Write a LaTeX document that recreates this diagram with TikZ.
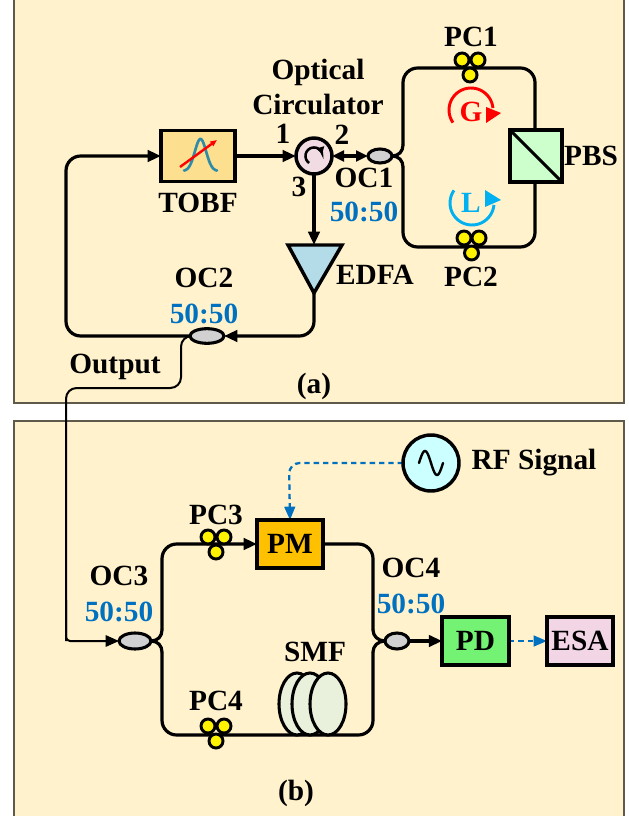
\documentclass[tikz,border=0pt]{standalone}
\usepackage{fontspec}
\setmainfont{Liberation Serif}
\usetikzlibrary{arrows.meta,shapes.geometric}
\pgfdeclarelayer{panel}
\pgfdeclarelayer{lines}
\pgfsetlayers{panel,lines,main}
\definecolor{cream}{HTML}{FFF2CC}
\definecolor{bluetxt}{HTML}{0070C0}
\definecolor{lblue}{HTML}{00B0F0}
\definecolor{panelline}{HTML}{5F5A4C}
\definecolor{tobffill}{HTML}{FCE08F}
\definecolor{circfill}{HTML}{F0DCE2}
\definecolor{edfafill}{HTML}{B4DCE8}
\definecolor{pbsfill}{HTML}{CCFFCC}
\definecolor{pmfill}{HTML}{FFC000}
\definecolor{pdfill}{HTML}{73F273}
\definecolor{esafill}{HTML}{F2D6E6}
\definecolor{rffill}{HTML}{CCFFFF}
\definecolor{smffill}{HTML}{E9F0DC}
\definecolor{bellcol}{HTML}{2E8CA8}
\tikzset{
  x=0.75pt,y=-0.75pt,
  panelbox/.style={draw=panelline,line width=0.8pt,fill=cream},
  fiber/.style={draw=black,line width=2.4pt,line join=round},
  tail/.style={fiber,line cap=round},
  thinfiber/.style={draw=black,line width=1.5pt,line join=round},
  tip/.style={-{Triangle[length=10pt,width=8.5pt]}},
  bluedash/.style={draw=bluetxt,line width=1.7pt,dash pattern=on 4pt off 3pt,-{Triangle[length=10pt,width=8pt]}},
  box/.style={draw=black,line width=2.6pt,rectangle,inner sep=0pt,outer sep=0pt,font=\fontsize{22}{24}\selectfont\bfseries},
  coupler/.style={draw=black,line width=2.3pt,ellipse,fill=black!18,inner sep=0pt,outer sep=0pt},
  pcball/.style={draw=black,line width=2.2pt,circle,fill=yellow,minimum size=10.5pt,inner sep=0pt},
  lab/.style={inner sep=0pt,font=\fontsize{22}{24}\selectfont\bfseries},
  ratio/.style={lab,text=bluetxt},
}
\begin{document}
\begin{tikzpicture}
\useasboundingbox (0,0) rectangle (628,816);
\begin{pgfonlayer}{panel}
\draw[panelbox] (14,-3) rectangle (624,403);
\draw[panelbox] (14,421) rectangle (624,820);
\end{pgfonlayer}

% ---- panel (a) components
\node[box,fill=tobffill,minimum width=55.5pt,minimum height=38pt] (tobf) at (198,156) {};
\draw[draw=bellcol,line width=2pt,line cap=round] plot[domain=184:217,samples=40,smooth] (\x,{171-32*exp(-((\x-200.5)/8)^2)});
\draw[red,line width=1.8pt,-{Triangle[length=5pt,width=4pt]}] (180,167) -- (217,140);
\node[draw=black,line width=2.6pt,circle,fill=circfill,minimum size=27pt,inner sep=0pt,outer sep=0pt] (circ) at (314,156) {};
\draw[line width=1.9pt,-{Triangle[length=5pt,width=6pt]}] plot[domain=125:345,samples=30,smooth] ({314+8.5*cos(\x)},{156+8.5*sin(\x)});
\node[coupler,minimum width=18pt,minimum height=10.5pt] (oc1) at (380,156) {};
\node[box,fill=pbsfill,minimum width=39pt,minimum height=39pt] (pbs) at (536,156) {};
\draw[line width=2.3pt] (pbs.north west) -- (pbs.south east);
\node[coupler,minimum width=25.5pt,minimum height=11pt] (oc2) at (207,336) {};
\coordinate (edfatop) at (314,245);
\coordinate (edfaapex) at (314,293);
\draw[line width=2.6pt,line join=miter,fill=edfafill] (288,245) -- (342,245) -- (edfaapex) -- cycle;

% PC1, PC2
\node[pcball] (pca1) at (462,60) {};
\node[pcball] (pca2) at (478,60) {};
\node[pcball] (pca3) at (470,75) {};
\node[pcball] (pcb1) at (464,238) {};
\node[pcball] (pcb2) at (479,238) {};
\node[pcball] (pcb3) at (471.5,253) {};

% G, L loops
\draw[red,line width=2.2pt] plot[domain=145:355,samples=30,smooth] ({471+22*cos(\x)},{110+22*sin(\x)});
\fill[red] (486,107) -- (501,113) -- (486,123) -- cycle;
\draw[lblue,line width=2.2pt] plot[domain=-145:-355,samples=30,smooth] ({472+22*cos(\x)},{203+22*sin(\x)});
\fill[lblue] (485,190) -- (501,200) -- (485,207) -- cycle;
\node[lab,text=red] (g) at (471,112) {G};
\node[lab,text=lblue] (l) at (471,203) {L};

% ---- panel (a) labels
\node[lab] (t1) at (318,72) {Optical};
\node[lab] (t2) at (318,105) {Circulator};
\node[lab] (p1) at (283,134) {1};
\node[lab] (p2) at (342,135) {2};
\node[lab] (p3) at (299,187) {3};
\node[lab] (t3) at (364,178) {OC1};
\node[ratio] (r1) at (364,212) {50:50};
\node[lab] (t4) at (198,203) {TOBF};
\node[lab] (t5) at (375,275) {EDFA};
\node[lab] (t6) at (471,37) {PC1};
\node[lab] (t7) at (471,277) {PC2};
\node[lab] (t8) at (591,156) {PBS};
\node[lab] (t9) at (204,278) {OC2};
\node[ratio] (r2) at (204,314) {50:50};
\node[lab] (t10) at (115,367) {Output};
\node[lab] (t11) at (314,386) {(a)};

% ---- panel (b) components
\node[box,fill=pmfill,minimum width=49.5pt,minimum height=36pt] (pm) at (290,544) {PM};
\node[box,fill=pdfill,minimum width=50pt,minimum height=36pt] (pd) at (475.5,641) {PD};
\node[box,fill=esafill,minimum width=49.5pt,minimum height=36pt] (esa) at (580,641) {ESA};
\node[draw=black,line width=2.6pt,circle,fill=rffill,minimum size=42pt,inner sep=0pt,outer sep=0pt] (rf) at (431,463) {};
\draw[line width=1.8pt,line cap=round] plot[domain=0:360,samples=40,smooth] ({419+\x/15},{463-12*sin(\x)});
\node[coupler,minimum width=24pt,minimum height=12pt] (oc3) at (135,641) {};
\node[coupler,minimum width=18pt,minimum height=12pt] (oc4) at (397,641) {};
\node[pcball] (pcc1) at (208,537) {};
\node[pcball] (pcc2) at (224,537) {};
\node[pcball] (pcc3) at (216,552) {};
\node[pcball] (pcd1) at (208,726) {};
\node[pcball] (pcd2) at (224,726) {};
\node[pcball] (pcd3) at (216,741) {};
\foreach \i/\cx in {s1/297,s2/310,s3/328}{
  \node[draw=black,line width=2.3pt,ellipse,fill=smffill,minimum width=27pt,minimum height=46.5pt,inner sep=0pt,outer sep=0pt] (\i) at (\cx,704) {};
}
\node[lab] (t12) at (534,463) {RF Signal};
\node[lab] (t13) at (216,515) {PC3};
\node[lab] (t14) at (119,576) {OC3};
\node[ratio] (r3) at (119,612) {50:50};
\node[lab] (t15) at (216,701) {PC4};
\node[lab] (t16) at (315,652) {SMF};
\node[lab] (t17) at (411,568) {OC4};
\node[ratio] (r4) at (411,604) {50:50};
\node[lab] (t18) at (296,793) {(b)};

% ---- corners
\coordinate (atl) at (403,68);
\coordinate (atr) at (535,68);
\coordinate (abl) at (403,247);
\coordinate (abr) at (535,247);
\coordinate (ll) at (66,336);
\coordinate (lu) at (66,156);
\coordinate (oc) at (314,336);
\coordinate (bl1) at (162,544);
\coordinate (bl2) at (162,735);
\coordinate (br1) at (373,544);
\coordinate (br2) at (373,735);
\coordinate (a1) at (403,145);
\coordinate (a2) at (403,167);
\coordinate (b1) at (162,630);
\coordinate (b2) at (162,652);
\coordinate (c1) at (373,630);
\coordinate (c2) at (373,652);

% ---- connectors
\begin{pgfonlayer}{lines}
\draw[fiber,tip] (tobf.east) -- (circ.west);
\draw[fiber,{Triangle[length=9pt,width=8pt]}-{Triangle[length=9pt,width=8pt]}] (circ.east) -- (oc1.west);
\draw[fiber,tip] (circ.south) -- (edfatop);
\draw[tail] (oc1.east) .. controls (399,156) and (403,151) .. (a1);
\draw[tail] (oc1.east) .. controls (399,156) and (403,161) .. (a2);
\draw[fiber,rounded corners=11pt] (a1) -- (atl) -- (atr) -- (pbs.north -| atr);
\draw[fiber,rounded corners=11pt] (a2) -- (abl) -- (abr) -- (pbs.south -| abr);
\draw[fiber,rounded corners=11pt,tip] (oc2.west) -- (ll) -- (lu) -- (tobf.west);
\draw[fiber,rounded corners=11pt,tip] (edfaapex) -- (oc) -- (oc2.east);
\draw[thinfiber,rounded corners=8pt] (oc2.west) -- ++(-9,0) -- (181,388) -- (66,388) -- (66,641);
\draw[thinfiber,rounded corners=3pt,tip] (66,600) -- (66,641) -- (oc3.west);
\draw[tail] (oc3.east) .. controls (158,641) and (162,636) .. (b1);
\draw[tail] (oc3.east) .. controls (158,641) and (162,646) .. (b2);
\draw[fiber,rounded corners=11pt,tip] (b1) -- (bl1) -- (pm.west);
\draw[fiber,rounded corners=11pt] (b2) -- (bl2) -- (br2) -- (c2);
\draw[fiber,rounded corners=11pt] (pm.east) -- (br1) -- (c1);
\draw[tail] (c1) .. controls (373,636) and (378,641) .. (oc4.west);
\draw[tail] (c2) .. controls (373,646) and (378,641) .. (oc4.west);
\draw[fiber,tip] (oc4.east) -- (pd.west);
\draw[bluedash] (pd.east) -- (esa.west);
\draw[bluedash,rounded corners=8pt] (rf.west) -- (289,463) -- (pm.north);
\end{pgfonlayer}
\end{tikzpicture}
\end{document}
